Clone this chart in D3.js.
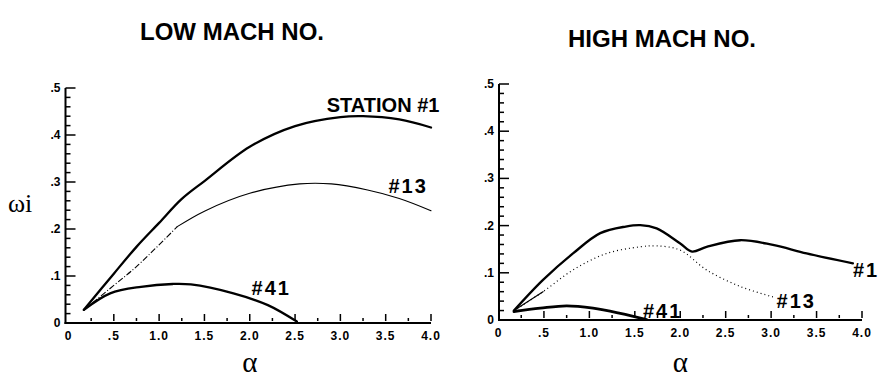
<!doctype html>
<html>
<head>
<meta charset="UTF-8">
<title>Growth rate vs wavenumber</title>
<script src="https://d3js.org/d3.v7.min.js"></script>
<style>
  body { margin: 0; background: #fff; }
  svg text { font-family: "Liberation Sans", Arial, sans-serif; fill: #000; }
  .serif { font-family: "Liberation Serif", "DejaVu Serif", serif !important; }
</style>
</head>
<body>
<div id="chart"></div>
<script>
var width = 883, height = 382;

// LOW MACH NO. panel
var lowAlpha1  = [0.17, 0.5, 0.75, 1.0, 1.25, 1.5, 2.0, 2.5, 3.0, 3.25, 3.65, 4.0];
var lowOmega1  = [0.028, 0.105, 0.162, 0.213, 0.264, 0.302, 0.375, 0.419, 0.438, 0.44, 0.433, 0.416];
var lowAlpha13 = [0.17, 0.5, 0.75, 1.2, 1.5, 2.0, 2.55, 2.9, 3.3, 3.65, 4.0];
var lowOmega13 = [0.028, 0.08, 0.12, 0.205, 0.238, 0.276, 0.296, 0.296, 0.283, 0.265, 0.239];
var lowAlpha41 = [0.17, 0.46, 0.8, 1.15, 1.35, 1.82, 2.2, 2.52];
var lowOmega41 = [0.028, 0.063, 0.077, 0.083, 0.082, 0.063, 0.038, 0.003];

// HIGH MACH NO. panel
var highAlpha1  = [0.17, 0.49, 0.82, 1.12, 1.4, 1.56, 1.74, 2.0, 2.13, 2.29, 2.66, 3.02, 3.39, 3.9];
var highOmega1  = [0.02, 0.085, 0.141, 0.184, 0.198, 0.201, 0.194, 0.162, 0.145, 0.155, 0.169, 0.159, 0.141, 0.12];
var highAlpha13 = [0.17, 0.49, 0.82, 1.19, 1.56, 1.74, 2.0, 2.29, 2.66, 3.02];
var highOmega13 = [0.02, 0.06, 0.106, 0.141, 0.155, 0.157, 0.148, 0.106, 0.071, 0.049];
var highAlpha41 = [0.17, 0.46, 0.75, 1.04, 1.34, 1.63];
var highOmega41 = [0.018, 0.025, 0.03, 0.025, 0.014, 0.001];

var xTicks = [0, 0.5, 1, 1.5, 2, 2.5, 3, 3.5, 4];
var yTicks = [0, 0.1, 0.2, 0.3, 0.4, 0.5];

var svg = d3.select("#chart")
    .append("svg")
    .attr("width", width)
    .attr("height", height);

function fmt(d) {
    if (d === 0) return "0";
    return d3.format(".1f")(d).replace(/^0\./, ".");
}

function pts(a, w) {
    return a.map(function (d, i) { return [d, w[i]]; });
}

function drawPanel(p) {
    var x = d3.scaleLinear().domain([0, 4]).range(p.xr);
    var y = d3.scaleLinear().domain([0, 0.5]).range(p.yr);
    var ax = p.xr[0] + p.axOff;
    var g = svg.append("g");

    var line = d3.line()
        .x(function (d) { return x(d[0]); })
        .y(function (d) { return y(d[1]); })
        .curve(d3.curveCatmullRom.alpha(0.5));

    p.series.forEach(function (s) {
        g.append("path")
            .attr("d", line(s.data))
            .attr("fill", "none")
            .attr("stroke", "#000")
            .attr("stroke-width", s.w)
            .attr("stroke-dasharray", s.dash || null)
            .attr("stroke-linecap", s.dash ? "butt" : "round");
    });

    // axis lines as filled bars
    g.append("rect")
        .attr("x", ax - 1).attr("y", y(0.5))
        .attr("width", 2).attr("height", y(0) - y(0.5) + 1)
        .attr("fill", "#000");
    g.append("rect")
        .attr("x", ax - 1).attr("y", y(0) - 1)
        .attr("width", x(4) - ax + 1).attr("height", 2)
        .attr("fill", "#000");

    // y ticks (minor every .02, major every .1), pointing into the plot
    g.selectAll(".ymin")
        .data(d3.range(0, 0.5001, 0.02))
        .enter()
        .append("rect")
        .attr("x", ax)
        .attr("y", function (d) { return y(d) - 0.75; })
        .attr("width", function (d) { return yTicks.some(function (t) { return Math.abs(t - d) < 1e-6; }) ? 10 : 5; })
        .attr("height", 1.5)
        .attr("fill", "#000");
    g.selectAll(".ylab")
        .data(yTicks)
        .enter()
        .append("text")
        .text(fmt)
        .attr("x", ax - 5)
        .attr("y", function (d) { return y(d) + 4; })
        .style("text-anchor", "end")
        .style("font-weight", "bold")
        .style("font-size", "12px");

    // x ticks (minor every .25, major every .5), pointing up
    g.selectAll(".xtick")
        .data(d3.range(0.25, 4.01, 0.25))
        .enter()
        .append("rect")
        .attr("x", function (d) { return x(d) - 0.75; })
        .attr("y", function (d) { return y(0) - (d % 0.5 === 0 ? 9 : 5); })
        .attr("width", 1.5)
        .attr("height", function (d) { return d % 0.5 === 0 ? 7 : 3; })
        .attr("fill", "#000");
    g.selectAll(".xlab")
        .data(xTicks)
        .enter()
        .append("text")
        .text(fmt)
        .attr("x", function (d) { return x(d); })
        .attr("y", y(0) + 17)
        .style("text-anchor", "middle")
        .style("font-weight", "bold")
        .style("font-size", "12px")
        .style("letter-spacing", "1px");

    p.labels.forEach(function (l) {
        g.append("text")
            .text(l.text)
            .attr("x", x(l.a))
            .attr("y", y(l.w))
            .style("font-weight", "bold")
            .style("font-size", "20px")
            .style("letter-spacing", l.ls || "0px");
    });

    g.append("text")
        .text(p.title)
        .attr("x", p.titleX)
        .attr("y", p.titleY)
        .style("text-anchor", "middle")
        .style("font-weight", "bold")
        .style("font-size", "24px");

    g.append("text")
        .attr("class", "serif")
        .text("\u03b1")
        .attr("x", x(2))
        .attr("y", 372)
        .style("text-anchor", "middle")
        .style("font-size", "29px");
}

drawPanel({
    xr: [68.5, 431], yr: [323, 88], axOff: -3,
    title: "LOW MACH NO.", titleX: 232, titleY: 40,
    series: [
        { data: pts(lowAlpha1, lowOmega1), w: 2.3 },
        // #13 is broken (dash-dot) on its rising part, solid after
        { data: pts(lowAlpha13.slice(0, 4), lowOmega13.slice(0, 4)), w: 1.1, dash: "6,2,1,2" },
        { data: pts(lowAlpha13.slice(3), lowOmega13.slice(3)), w: 1.1 },
        { data: pts(lowAlpha41, lowOmega41), w: 2.3 }
    ],
    labels: [
        { text: "STATION #1", a: 2.85, w: 0.449 },
        { text: "#13", a: 3.53, w: 0.277, ls: "2px" },
        { text: "#41", a: 2.02, w: 0.06, ls: "2px" }
    ]
});

drawPanel({
    xr: [498.5, 862], yr: [320, 84], axOff: 0.5,
    title: "HIGH MACH NO.", titleX: 662, titleY: 47,
    series: [
        { data: pts(highAlpha1, highOmega1), w: 2.3 },
        { data: pts(highAlpha13, highOmega13), w: 1.2, dash: "1,3" },
        { data: pts(highAlpha13.slice(0, 2), highOmega13.slice(0, 2)), w: 1.2 },
        { data: pts(highAlpha41, highOmega41), w: 2.8 }
    ],
    labels: [
        { text: "#1", a: 3.9, w: 0.091, ls: "2px" },
        { text: "#13", a: 3.06, w: 0.025, ls: "2px" },
        { text: "#41", a: 1.59, w: 0.004, ls: "2px" }
    ]
});

// y axis title
svg.append("text")
    .attr("class", "serif")
    .text("\u03c9i")
    .attr("x", 8)
    .attr("y", 212)
    .style("font-size", "26px");
</script>
</body>
</html>
